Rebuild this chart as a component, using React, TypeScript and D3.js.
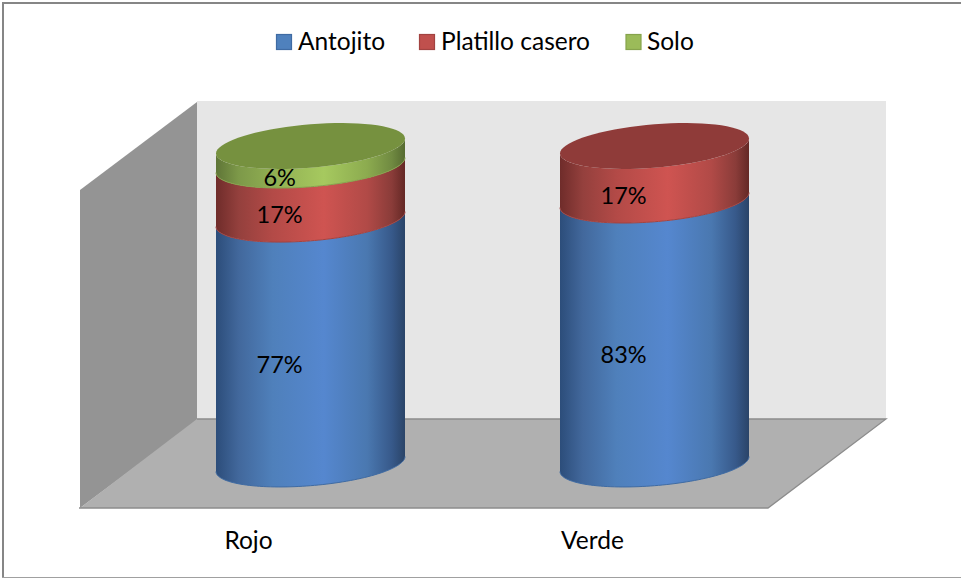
import React from "react";
import * as d3 from "d3";

const categories = ["Rojo", "Verde"];
const seriesNames = ["Antojito", "Platillo casero", "Solo"];
const antojito = [77, 83];
const platillo = [17, 17];
const solo = [6, 0];

const seriesValues = [antojito, platillo, solo];
const palette = [
  { id: "blue", key: "#4f81bd", edge: "#3f6ba3", stops: ["#2c4d7a", "#42689c", "#4f80bb", "#5587cf", "#4a78b0", "#37598a", "#2a4468"], cap: "#4a77ae" },
  { id: "red", key: "#c0504d", edge: "#a24341", stops: ["#6f2c2a", "#94403d", "#b34a47", "#cf5451", "#b14a47", "#8a3c39", "#642825"], cap: "#8f3b39" },
  { id: "green", key: "#9bbb59", edge: "#86a34c", stops: ["#5f7537", "#7d9949", "#90ae52", "#a6c95f", "#8cab4f", "#708a41", "#566b31"], cap: "#76913f" },
];

const W = 961;
const H = 578;
const fontFamily = "Lato, 'Open Sans', sans-serif";
const LABEL_SIZE = 23.5;
const TEXT_SIZE = 24.5;

// Cylinder cross-section: an ellipse sheared by the oblique projection.
const RX = 94.5;
const RY = 21.7;
const SHEAR = 7.5;

const yScale = d3.scaleLinear().domain([0, 100]).range([464, 146]);
const centerX = d3.scalePoint<string>().domain(categories).range([310.5, 654.5]);

const outline = d3.line<[number, number]>().x((d) => d[0]).y((d) => d[1]);

function rim(cx: number, cy: number, from: number, to: number, n = 72): [number, number][] {
  return d3.range(n + 1).map((i) => {
    const t = from + ((to - from) * i) / n;
    return [cx + RX * Math.cos(t), cy - SHEAR * Math.cos(t) + RY * Math.sin(t)] as [number, number];
  });
}

// Side wall of one stacked segment: the front half of the lower rim plus the front half of the upper rim.
function sidePath(cx: number, y0: number, y1: number) {
  const lower = rim(cx, y0, 0, Math.PI);
  const upper = rim(cx, y1, Math.PI, 0);
  return outline([...lower, ...upper]) + "Z";
}

function capPath(cx: number, cy: number) {
  return outline(rim(cx, cy, 0, Math.PI * 2)) + "Z";
}

const gradientOffsets = [0, 0.12, 0.3, 0.57, 0.8, 0.93, 1];

function Cylinder({ cat, idx }: { cat: string; idx: number }) {
  const cx = centerX(cat) as number;
  let acc = 0;
  const segments = seriesValues
    .map((vals, s) => {
      const start = acc;
      acc += vals[idx];
      return { s, value: vals[idx], start, end: acc };
    })
    .filter((d) => d.value > 0);
  const last = segments[segments.length - 1];
  const frontDrop = Math.hypot(SHEAR, RY);
  const labelX = cx - RX * (SHEAR / frontDrop);

  return (
    <g>
      {segments.map((d) => (
        <g key={d.s}>
          <path d={sidePath(cx, yScale(d.start), yScale(d.end))} fill={`url(#side-${palette[d.s].id})`} />
          <path
            d={outline(rim(cx, yScale(d.start), 0, Math.PI)) as string}
            fill="none"
            stroke={palette[d.s].edge}
            strokeWidth={1}
          />
        </g>
      ))}
      <path d={capPath(cx, yScale(last.end))} fill={palette[last.s].cap} />
      {segments.map((d) => (
        <text
          key={d.s}
          x={labelX}
          y={(yScale(d.start) + yScale(d.end)) / 2 + frontDrop + 8}
          textAnchor="middle"
          fontFamily={fontFamily}
          fontSize={LABEL_SIZE}
          fill="#000"
        >
          {d.value}%
        </text>
      ))}
      <text x={cx - 62} y={549} textAnchor="middle" fontFamily={fontFamily} fontSize={TEXT_SIZE} fill="#000">
        {cat}
      </text>
    </g>
  );
}

const legendSwatchX = [276.5, 419.5, 626];
const legendTextX = [298, 441, 647];

export default function App() {
  return (
    <svg
      width={W}
      height={H}
      viewBox={`0 0 ${W} ${H}`}
      style={{ position: "absolute", left: 0, top: 0, background: "#fff" }}
    >
      <defs>
        {palette.map((p) => (
          <linearGradient key={p.id} id={`side-${p.id}`} x1="0" x2="1" y1="0" y2="0">
            {p.stops.map((c, i) => (
              <stop key={i} offset={gradientOffsets[i]} stopColor={c} />
            ))}
          </linearGradient>
        ))}
      </defs>

      {/* chart frame: open on the right-hand side */}
      <path d="M3,578V3H961" fill="none" stroke="#868686" strokeWidth={2} />
      <path d="M2,577.5H961" fill="none" stroke="#a0a0a0" strokeWidth={1.2} />

      {/* walls and floor */}
      <polygon points="197,101 886,101 886,419 197,419" fill="#e6e6e6" />
      <polygon points="80,190 197,102 197,421 80,508" fill="#949494" />
      <polygon points="197,419 886,419 768,508 80,508" fill="#b0b0b0" />
      <path d="M197,419H886L768,508H79" fill="none" stroke="#8c8c8c" strokeWidth={1.3} />

      {categories.map((c, i) => (
        <Cylinder key={c} cat={c} idx={i} />
      ))}

      {/* legend */}
      {seriesNames.map((name, i) => (
        <g key={name}>
          <rect x={legendSwatchX[i]} y={34.5} width={15} height={15} fill={palette[i].key} stroke={palette[i].edge} strokeWidth={1.2} />
          <text x={legendTextX[i]} y={50} fontFamily={fontFamily} fontSize={TEXT_SIZE} fill="#000">
            {name}
          </text>
        </g>
      ))}
    </svg>
  );
}
